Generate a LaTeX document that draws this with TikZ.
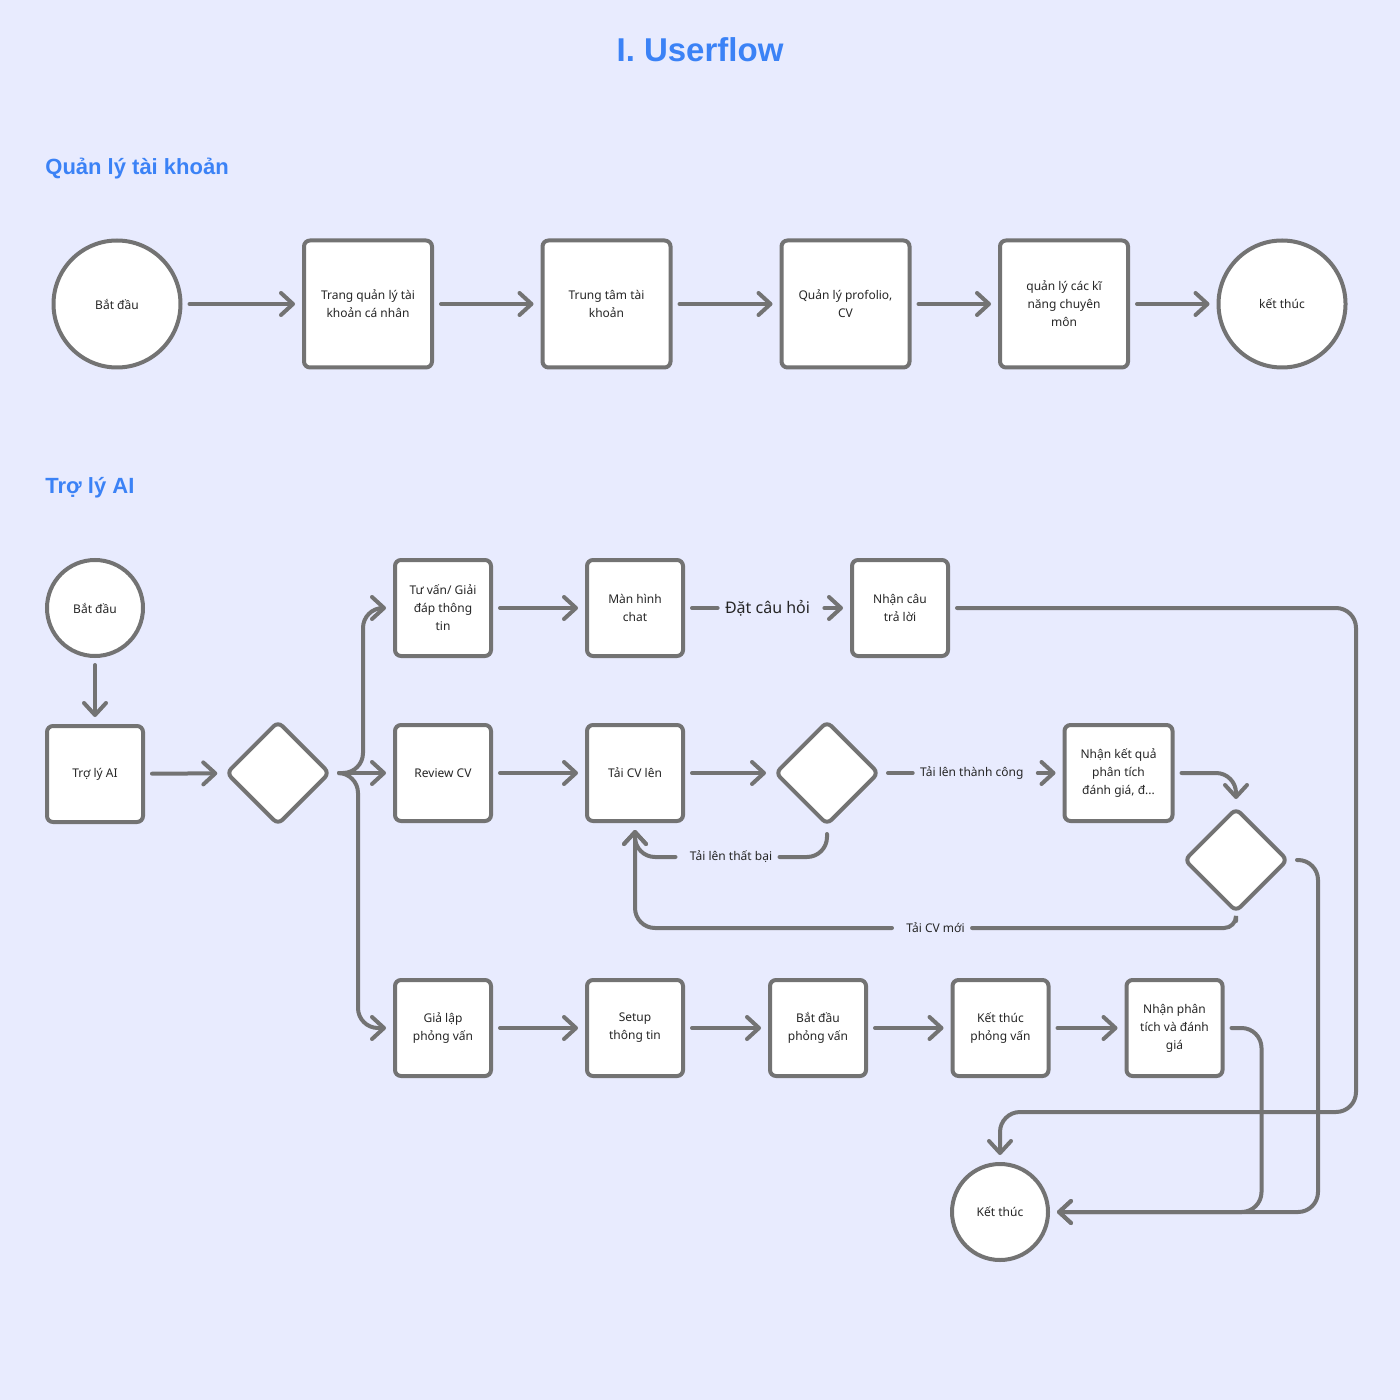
\documentclass[tikz,border=0pt]{standalone}
\usepackage{fontspec}
\setmainfont{Noto Sans}
\newfontfamily\headfont{Liberation Sans}
\usetikzlibrary{arrows.meta,shapes.geometric,calc}
\definecolor{bg}{HTML}{E8EBFE}
\definecolor{ln}{HTML}{737373}
\definecolor{ttl}{HTML}{3B82F6}
\definecolor{txt}{HTML}{262626}
\begin{document}
\begin{tikzpicture}[x=0.5pt,y=-0.5pt,
  box/.style={draw=ln, line width=2pt, fill=white, rounded corners=3pt, minimum width=#1, minimum height=48pt, inner sep=0pt, align=center, font=\fontsize{6}{9}\selectfont, text=txt},
  box/.default=48pt,
  bigbox/.style={box=64pt, minimum height=63.5pt},
  circ/.style={draw=ln, line width=2pt, fill=white, circle, minimum size=#1, inner sep=0pt, align=center, font=\fontsize{6}{9}\selectfont, text=txt},
  circ/.default=48pt,
  dia/.style={draw=ln, line width=2pt, fill=white, diamond, minimum width=52pt, minimum height=52pt, inner sep=0pt, rounded corners=3pt},
  seg/.style={draw=ln, line width=2pt, line cap=round, rounded corners=10pt, shorten <=3.5pt},
  conn/.style={seg, -{Straight Barb[length=6pt,width=11pt,round]}, shorten >=3.5pt},
  lbl/.style={text=txt, font=\fontsize{6}{8}\selectfont, inner xsep=3.5pt, inner ysep=1pt},
  heading/.style={anchor=west, inner sep=0pt, text=ttl, font=\headfont\fontsize{11}{13}\selectfont\bfseries}
]
\useasboundingbox[fill=bg] (0,0) rectangle (1400,1400);

\node[text=ttl, inner sep=0pt, font=\headfont\fontsize{16.5}{20}\selectfont\bfseries] (title) at (700,50) {I. Userflow};
\node[heading] (h1) at (45,169) {Quản lý tài khoản};
\node[heading] (h2) at (45,488) {Trợ lý AI};

% ---- Row: account management
\node[circ=63.5pt] (s1) at (117,304) {Bắt đầu};
\node[bigbox] (b1) at (368,304) {Trang quản lý tài\\khoản cá nhân};
\node[bigbox] (b2) at (606.5,304) {Trung tâm tài\\khoản};
\node[bigbox] (b3) at (845.5,304) {Quản lý profolio,\\CV};
\node[bigbox] (b4) at (1064,304) {quản lý các kĩ\\năng chuyên\\môn};
\node[circ=63.5pt] (e1) at (1282,304) {kết thúc};
\draw[conn] (s1) -- (b1);
\draw[conn] (b1) -- (b2);
\draw[conn] (b2) -- (b3);
\draw[conn] (b3) -- (b4);
\draw[conn] (b4) -- (e1);

% ---- AI assistant
\node[circ] (s2) at (95,608) {Bắt đầu};
\node[box] (ai) at (95,774) {Trợ lý AI};
\node[dia] (d1) at (278,773) {};

\node[box] (tv) at (443,608) {Tư vấn/ Giải\\đáp thông\\tin};
\node[box] (mc) at (635,608) {Màn hình\\chat};
\node[box] (nc) at (900,608) {Nhận câu\\trả lời};

\node[box] (rv) at (443,773) {Review CV};
\node[box] (cv) at (635,773) {Tải CV lên};
\node[dia] (dcv) at (827,773) {};
\node[box=54pt] (nk) at (1118.5,773) {Nhận kết quả\\phân tích\\đánh giá, đ...};
\node[dia] (d2) at (1236,860) {};

\node[box] (gl) at (443,1028) {Giả lập\\phỏng vấn};
\node[box] (su) at (635,1028) {Setup\\thông tin};
\node[box] (bp) at (818,1028) {Bắt đầu\\phỏng vấn};
\node[box] (kp) at (1000.5,1028) {Kết thúc\\phỏng vấn};
\node[box] (np) at (1174.5,1028) {Nhận phân\\tích và đánh\\giá};

\node[circ] (kt) at (1000,1212) {Kết thúc};

% labels
\path (mc) -- node[lbl, font=\fontsize{8}{10}\selectfont] (q1) {Đặt câu hỏi} (nc);
\path (dcv) -- node[lbl] (ok) {Tải lên thành công} (nk);
\path (dcv.south) -- ++(0,30) -| node[lbl, pos=0.25] (fail) {Tải lên thất bại} (cv.south);
\path (d2.south) -- ++(0,14) -| node[lbl, pos=0.25] (new) {Tải CV mới} (cv.south);

\draw[conn] (s2) -- (ai);
\draw[conn] (ai) -- (d1);
\draw[conn] (d1.east) -- ++(31,0) |- (tv.west);
\draw[conn] (d1.east) -- (rv.west);
\draw[conn] (d1.east) -- ++(26,0) |- (gl.west);

\draw[conn] (tv) -- (mc);
\draw[seg] (mc) -- (q1.west);
\draw[conn] (q1.east) -- (nc);
\draw[conn] (nc.east) -- ++(406,0) -- ++(0,504) -| (kt.north);

\draw[conn] (rv) -- (cv);
\draw[conn] (cv) -- (dcv);
\draw[seg] (dcv.east) -- (ok.west);
\draw[conn] (ok.east) -- (nk.west);
\draw[seg] (dcv.south) -- ++(0,30) -- (fail.east);
\draw[conn] (fail.west) -| (cv.south);
\draw[conn] (nk.east) -| (d2.north);
\draw[seg, rounded corners=6pt] (d2.south) -- ++(0,14) -- (new.east);
\draw[conn] (new.west) -| (cv.south);
\draw[conn] (d2.east) -- ++(28,0) |- (kt.east);

\draw[conn] (gl) -- (su);
\draw[conn] (su) -- (bp);
\draw[conn] (bp) -- (kp);
\draw[conn] (kp) -- (np);
\draw[conn] (np.east) -- ++(37,0) |- (kt.east);
\end{tikzpicture}
\end{document}
